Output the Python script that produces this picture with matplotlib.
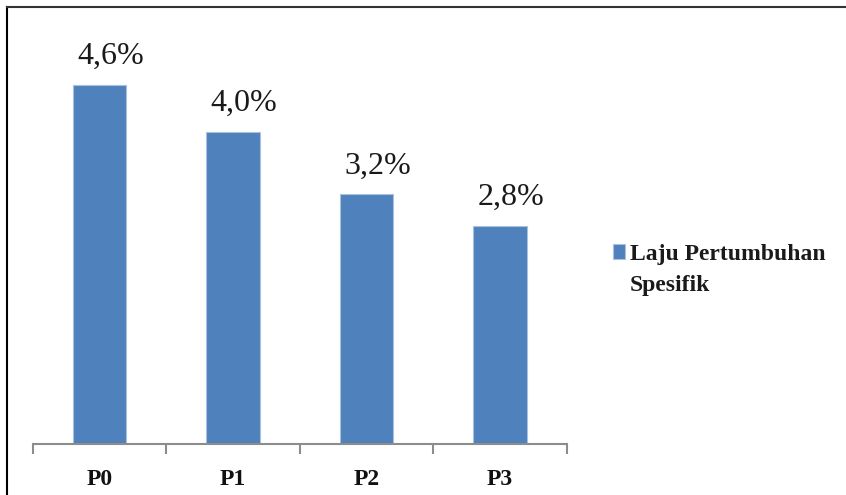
import matplotlib.pyplot as plt
from matplotlib.lines import Line2D
from matplotlib.patches import Rectangle

kategori = ["P0", "P1", "P2", "P3"]
laju = [4.6, 4.0, 3.2, 2.8]
label_nilai = ["4,6%", "4,0%", "3,2%", "2,8%"]
nama_seri = ["Laju Pertumbuhan", "Spesifik"]

plt.rcParams['font.family'] = ['Liberation Serif', 'DejaVu Serif']

fig = plt.figure(figsize=(8.46, 4.95), dpi=100)
ax = fig.add_axes([0.039, 0.103, 0.631, 0.788])

x = range(len(kategori))
bars = ax.bar(x, laju, width=0.4, color="#4F81BD", edgecolor="#A9C1DF",
              linewidth=0.8)

for b, t in zip(bars, label_nilai):
    ax.annotate(t, (b.get_x() + b.get_width() / 2, b.get_height()),
                xytext=(11, 14), textcoords="offset pixels",
                ha="center", va="bottom", fontsize=23, color="#1a1a1a")

ax.set_xlim(-0.5, 3.5)
ax.set_ylim(0, 5)
ax.set_yticks([])
for s in ["top", "right", "left"]:
    ax.spines[s].set_visible(False)
ax.spines["bottom"].set_color("#8c8c8c")
ax.spines["bottom"].set_linewidth(1.5)

ax.set_xticks(list(x))
ax.set_xticklabels(kategori, fontsize=17, fontweight="bold", color="#111111")
ax.tick_params(axis="x", which="major", length=0, pad=18)
ax.set_xticks([-0.5, 0.5, 1.5, 2.5, 3.5], minor=True)
ax.tick_params(axis="x", which="minor", length=7, width=1.5, color="#8c8c8c")

# legenda: kotak sejajar dengan baris pertama
kosong = Rectangle((0, 0), 1, 1, fc="none", ec="none")
leg = fig.legend([bars[0], kosong], nama_seri, loc="center left",
                 bbox_to_anchor=(0.7246, 0.455), frameon=False,
                 prop={"size": 17, "weight": "bold"}, handlelength=0.52,
                 handleheight=0.55, handletextpad=0.2, borderpad=0,
                 borderaxespad=0, labelspacing=0.42)
for txt in leg.get_texts():
    txt.set_color("#1a1a1a")

# bingkai gambar (atas dan kiri)
fig.add_artist(Line2D([7 / 846, 7 / 846], [0, 1 - 7 / 495], color="black", lw=1.5))
fig.add_artist(Line2D([7 / 846, 1], [1 - 7 / 495, 1 - 7 / 495], color="#333333", lw=1.5))

fig.savefig("out.png", dpi=100)
